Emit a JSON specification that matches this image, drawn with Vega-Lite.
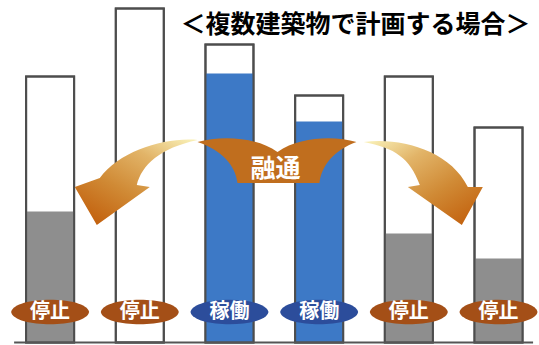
{
  "$schema": "https://vega.github.io/schema/vega-lite/v6.json",
  "width": 539,
  "height": 345,
  "autosize": {"type": "none"},
  "padding": 0,
  "background": "#ffffff",
  "config": {"view": {"stroke": null}},
  "datasets": {
    "buildings": [
      {"building": "1", "status": "停止", "capacity": 266, "usage": 131},
      {"building": "2", "status": "停止", "capacity": 334, "usage": 0},
      {"building": "3", "status": "稼働", "capacity": 298, "usage": 269},
      {"building": "4", "status": "稼働", "capacity": 247, "usage": 221},
      {"building": "5", "status": "停止", "capacity": 266, "usage": 109},
      {"building": "6", "status": "停止", "capacity": 215, "usage": 84}
    ]
  },
  "encoding": {
    "x": {
      "field": "building",
      "type": "nominal",
      "axis": null,
      "scale": {"type": "band", "domain": ["1", "2", "3", "4", "5", "6"], "paddingInner": 0.4647, "paddingOuter": 0.2375, "align": 0.613}
    }
  },
  "layer": [
    {
      "data": {"name": "buildings"},
      "mark": {"type": "bar", "fill": "#ffffff", "stroke": "#4d4d4d", "strokeWidth": 2},
      "encoding": {
        "y": {"field": "capacity", "type": "quantitative", "axis": null, "scale": {"domain": [-2.5, 342.5], "nice": false, "zero": false}},
        "y2": {"datum": 0}
      }
    },
    {
      "data": {"name": "buildings"},
      "transform": [{"filter": "datum.usage > 0"}],
      "mark": {"type": "bar", "strokeWidth": 0, "opacity": 1},
      "encoding": {
        "y": {"field": "usage", "type": "quantitative"},
        "y2": {"datum": 0},
        "color": {"field": "status", "type": "nominal", "legend": null, "scale": {"domain": ["停止", "稼働"], "range": ["#8e8e8e", "#3d79c6"]}}
      }
    },
    {
      "data": {"name": "buildings"},
      "mark": {"type": "bar", "fillOpacity": 0, "stroke": "#4d4d4d", "strokeWidth": 2},
      "encoding": {
        "y": {"field": "capacity", "type": "quantitative"},
        "y2": {"datum": 0}
      }
    },
    {
      "data": {"values": [{"line": "base"}]},
      "mark": {"type": "rule", "color": "#555555", "strokeWidth": 2},
      "encoding": {
        "x": {"datum": "1", "bandPosition": -0.25},
        "x2": {"datum": "6", "bandPosition": 1.22},
        "y": {"datum": 0}
      }
    },
    {
      "data": {"name": "buildings"},
      "mark": {"type": "point", "shape": "M-1,0C-0.92,-0.42 0.92,-0.42 1,0C0.92,0.42 -0.92,0.42 -1,0Z", "size": 6084, "filled": true, "opacity": 1, "strokeWidth": 0},
      "encoding": {
        "y": {"datum": 30.5},
        "fill": {"field": "status", "type": "nominal", "legend": null, "scale": {"domain": ["停止", "稼働"], "range": ["#a44f17", "#2c4d9b"]}}
      }
    },
    {
      "data": {"name": "buildings"},
      "mark": {"type": "text", "font": "Noto Sans CJK JP", "fontSize": 20, "fontWeight": "bold", "color": "#ffffff", "baseline": "middle", "align": "center", "dy": 0},
      "encoding": {
        "y": {"datum": 30.5},
        "text": {"field": "status"}
      }
    },
    {
      "data": {"values": [{"building": "3", "flow": "融通"}]},
      "mark": {"type": "point", "shape": "M-32,-41C-10,-47 25,-47 48,-31C71,-47 106,-47 127,-41C105,-33 92,-18 90,0L8,0C6,-18 -8,-33 -32,-41Z", "size": 4, "filled": true, "opacity": 1, "fill": "#c06e1e", "strokeWidth": 0},
      "encoding": {"y": {"datum": 159.5}}
    },
    {
      "data": {"values": [{"building": "2", "flow": "left"}]},
      "mark": {
        "type": "point",
        "shape": "M58,-43C25,-46 -20,-32 -40,-5L-65,4L-43,42L10,4L-3,2C2,-18 20,-35 58,-43Z",
        "size": 4, "filled": true, "opacity": 1, "strokeWidth": 0,
        "fill": {"gradient": "linear", "x1": 1, "y1": 0.05, "x2": 0.2, "y2": 1,
          "stops": [{"offset": 0, "color": "#f8eeb4"}, {"offset": 0.3, "color": "#e2b468"}, {"offset": 0.65, "color": "#d08a35"}, {"offset": 1, "color": "#c3620f"}]}
      },
      "encoding": {"y": {"datum": 159.5}}
    },
    {
      "data": {"values": [{"building": "5", "flow": "right"}]},
      "mark": {
        "type": "point",
        "shape": "M-45,-41C-9,-46 41,-33 59,4L74,4L53,42L-1,4L11,2C1,-25 -14,-35 -45,-41Z",
        "size": 4, "filled": true, "opacity": 1, "strokeWidth": 0,
        "fill": {"gradient": "linear", "x1": 0, "y1": 0.05, "x2": 0.85, "y2": 1,
          "stops": [{"offset": 0, "color": "#f8eeb4"}, {"offset": 0.3, "color": "#e2b468"}, {"offset": 0.65, "color": "#d08a35"}, {"offset": 1, "color": "#c3620f"}]}
      },
      "encoding": {"y": {"datum": 159.5}}
    },
    {
      "data": {"values": [{"building": "3", "flow": "融通"}]},
      "mark": {"type": "text", "font": "Noto Sans CJK JP", "fontSize": 25, "fontWeight": "bold", "color": "#ffffff", "baseline": "middle", "align": "center", "dx": 46},
      "encoding": {
        "y": {"datum": 173.5},
        "text": {"field": "flow"}
      }
    },
    {
      "data": {"values": [{"building": "6", "title": "＜複数建築物で計画する場合＞"}]},
      "mark": {"type": "text", "font": "Noto Sans CJK JP", "fontSize": 25, "fontWeight": "bold", "color": "#000000", "baseline": "alphabetic", "align": "right", "dx": 8},
      "encoding": {
        "x": {"field": "building", "type": "nominal", "bandPosition": 1},
        "y": {"datum": 310},
        "text": {"field": "title"}
      }
    }
  ]
}
